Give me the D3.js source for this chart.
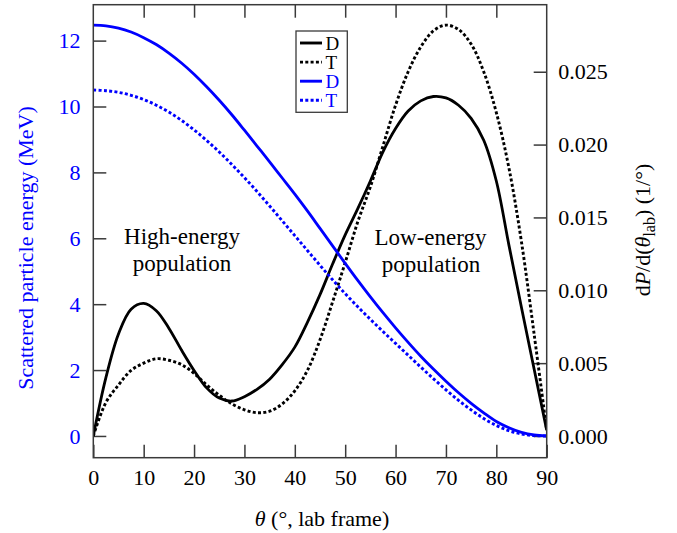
<!DOCTYPE html>
<html>
<head>
<meta charset="utf-8">
<script src="https://cdn.jsdelivr.net/npm/d3@7/dist/d3.min.js"></script>
<style>
  html, body { margin: 0; padding: 0; background: #fff; }
  svg { display: block; }
  text { font-family: "Liberation Serif", "Times New Roman", serif; }
</style>
</head>
<body>
<svg id="chart" width="677" height="533"></svg>
<script>
// Lab-frame scattering angle (degrees)
const theta = [0, 2.5, 5, 7.5, 10, 12.5, 15, 17.5, 20, 22.5, 25, 27.5, 30, 32.5, 35, 37.5,
  40, 42.5, 45, 47.5, 50, 52.5, 55, 57.5, 60, 62.5, 65, 67.5, 70, 72.5, 75, 77.5, 80, 82.5,
  85, 87.5, 90];

// Angular distribution dP/dθ (1/°), right axis
const probD = [0.0000, 0.0040, 0.0070, 0.0087, 0.0091, 0.0086, 0.0074, 0.0059, 0.0045, 0.0033,
  0.0026, 0.0024, 0.0027, 0.0032, 0.0039, 0.0049, 0.0061, 0.0078, 0.0097, 0.0118, 0.0138,
  0.0156, 0.0175, 0.0195, 0.0211, 0.0223, 0.0230, 0.0233, 0.0232, 0.0227, 0.0218, 0.0203,
  0.0175, 0.0131, 0.0088, 0.0046, 0.0004];
const probT = [0.0000, 0.0023, 0.0035, 0.0045, 0.0050, 0.0053, 0.0052, 0.0049, 0.0043, 0.0035,
  0.0028, 0.0022, 0.0018, 0.0016, 0.0017, 0.0022, 0.0031, 0.0045, 0.0066, 0.0092, 0.0119,
  0.0147, 0.0171, 0.0199, 0.0227, 0.0250, 0.0267, 0.0278, 0.0282, 0.0279, 0.0269, 0.0250,
  0.0222, 0.0184, 0.0133, 0.0070, 0.0004];

// Scattered particle energy (MeV), left axis
const energyD = [12.47, 12.45, 12.38, 12.26, 12.09, 11.88, 11.62, 11.32, 10.98, 10.60, 10.19,
  9.75, 9.28, 8.80, 8.32, 7.83, 7.34, 6.83, 6.30, 5.77, 5.24, 4.72, 4.22, 3.74, 3.28, 2.84,
  2.42, 2.03, 1.66, 1.31, 0.99, 0.70, 0.44, 0.25, 0.11, 0.03, 0.00];
const energyT = [10.50, 10.48, 10.43, 10.34, 10.21, 10.04, 9.83, 9.58, 9.29, 8.97, 8.62, 8.24,
  7.84, 7.42, 6.98, 6.53, 6.08, 5.63, 5.18, 4.74, 4.32, 3.92, 3.54, 3.17, 2.81, 2.45, 2.09,
  1.74, 1.40, 1.08, 0.79, 0.53, 0.32, 0.16, 0.06, 0.01, 0.00];

// Tick values
const xTicks = [0, 10, 20, 30, 40, 50, 60, 70, 80, 90];
const energyTicks = [0, 2, 4, 6, 8, 10, 12];
const probTicks = [0, 0.005, 0.010, 0.015, 0.020, 0.025];

const BLUE = "#0000ff";
const FRAME = "#3a3a3a";
const FS = 22;
const SERIF = '"Liberation Serif", "Times New Roman", serif';

const svg = d3.select("#chart");
svg.append("rect").attr("width", 677).attr("height", 533).attr("fill", "#fff");

const plot = { left: 93.3, right: 546.7, top: 4.7, bottom: 457.7 };

const x = d3.scaleLinear().domain([0, 90]).range([plot.left, plot.right]);
const yE = d3.scaleLinear().domain([-0.66, 13.09]).range([plot.bottom, plot.top]);
const yP = d3.scaleLinear().domain([-0.00149, 0.0296]).range([plot.bottom, plot.top]);

svg.append("defs").append("clipPath").attr("id", "plotClip")
  .append("rect")
  .attr("x", plot.left).attr("y", plot.top)
  .attr("width", plot.right - plot.left).attr("height", plot.bottom - plot.top);

function styleAxis(g, color) {
  g.attr("font-family", SERIF);
  g.select(".domain").remove();
  g.selectAll(".tick line").attr("stroke", FRAME).attr("stroke-width", 1.5);
  g.selectAll(".tick text")
    .attr("fill", color)
    .style("font-family", SERIF)
    .style("font-size", FS + "px");
}

// Bottom axis with labels, top axis ticks only
svg.append("g")
  .attr("transform", `translate(0,${plot.bottom})`)
  .call(d3.axisBottom(x).tickValues(xTicks).tickSizeInner(-13).tickSizeOuter(0).tickPadding(11.5))
  .call(g => styleAxis(g, "#000"));
svg.append("g")
  .attr("transform", `translate(0,${plot.top})`)
  .call(d3.axisTop(x).tickValues(xTicks.slice(1, -1)).tickSizeInner(-13).tickSizeOuter(0).tickFormat(""))
  .call(g => styleAxis(g, "#000"));

// Left energy axis
svg.append("g")
  .attr("transform", `translate(${plot.left},0)`)
  .call(d3.axisLeft(yE).tickValues(energyTicks).tickSizeInner(-13).tickSizeOuter(0).tickPadding(12.8))
  .call(g => styleAxis(g, BLUE));

// Right probability axis
svg.append("g")
  .attr("transform", `translate(${plot.right},0)`)
  .call(d3.axisRight(yP).tickValues(probTicks).tickSizeInner(-13).tickSizeOuter(0)
    .tickPadding(11.6).tickFormat(d3.format(".3f")))
  .call(g => styleAxis(g, "#000"));

// Curves
const DOT = "3,2.3";
const curves = [
  { ys: probD, scale: yP, color: "#000", dash: null, width: 2.8 },
  { ys: probT, scale: yP, color: "#000", dash: DOT, width: 2.9 },
  { ys: energyD, scale: yE, color: BLUE, dash: null, width: 2.8 },
  { ys: energyT, scale: yE, color: BLUE, dash: DOT, width: 2.9 }
];

const curveG = svg.append("g").attr("clip-path", "url(#plotClip)");
curves.forEach(c => {
  const line = d3.line()
    .x((d, i) => x(theta[i]))
    .y(d => c.scale(d))
    .curve(d3.curveCatmullRom.alpha(0.5));
  curveG.append("path")
    .datum(c.ys)
    .attr("d", line)
    .attr("fill", "none")
    .attr("stroke", c.color)
    .attr("stroke-width", c.width)
    .attr("stroke-dasharray", c.dash)
    .attr("stroke-linejoin", "round");
});

// Frame
svg.append("rect")
  .attr("x", plot.left).attr("y", plot.top)
  .attr("width", plot.right - plot.left).attr("height", plot.bottom - plot.top)
  .attr("fill", "none").attr("stroke", FRAME).attr("stroke-width", 1.5);

// Legend
const legend = svg.append("g");
legend.append("rect")
  .attr("x", 296).attr("y", 31).attr("width", 51.3).attr("height", 81.3)
  .attr("fill", "#fff").attr("stroke", FRAME).attr("stroke-width", 1.3);
const legendItems = [
  { label: "D", color: "#000", dash: null },
  { label: "T", color: "#000", dash: DOT },
  { label: "D", color: BLUE, dash: null },
  { label: "T", color: BLUE, dash: DOT }
];
legendItems.forEach((d, i) => {
  const yy = 43 + i * 19.1;
  legend.append("line")
    .attr("x1", 300).attr("x2", 322).attr("y1", yy).attr("y2", yy)
    .attr("stroke", d.color).attr("stroke-width", 2.9).attr("stroke-dasharray", d.dash);
  legend.append("text")
    .attr("x", 325.5).attr("y", yy + 6.5)
    .attr("fill", d.color).style("font-size", "19px")
    .text(d.label);
});

// Population annotations
const notes = [
  { x: 182, y: 243.5, text: "High-energy" },
  { x: 182, y: 270.5, text: "population" },
  { x: 430.5, y: 244.5, text: "Low-energy" },
  { x: 431, y: 271.5, text: "population" }
];
svg.append("g").selectAll("text").data(notes).join("text")
  .attr("x", d => d.x).attr("y", d => d.y)
  .attr("text-anchor", "middle").attr("fill", "#000")
  .style("font-size", "23px")
  .text(d => d.text);

// Axis titles
const xTitle = svg.append("text")
  .attr("x", 322).attr("y", 526)
  .attr("text-anchor", "middle").attr("fill", "#000")
  .style("font-size", FS + "px");
xTitle.append("tspan").style("font-style", "italic").text("θ");
xTitle.append("tspan").text(" (°, lab frame)");

svg.append("text")
  .attr("transform", "translate(33,248) rotate(-90)")
  .attr("text-anchor", "middle").attr("fill", BLUE)
  .style("font-size", FS + "px")
  .text("Scattered particle energy (MeV)");

const yTitle = svg.append("text")
  .attr("transform", "translate(650,230) rotate(-90)")
  .attr("text-anchor", "middle").attr("fill", "#000")
  .style("font-size", FS + "px");
yTitle.append("tspan").text("d");
yTitle.append("tspan").style("font-style", "italic").text("P");
yTitle.append("tspan").text("/d(");
yTitle.append("tspan").style("font-style", "italic").text("θ");
yTitle.append("tspan").attr("dy", 5).style("font-size", "16px").text("lab");
yTitle.append("tspan").attr("dy", -5).text(") (1/°)");
</script>
</body>
</html>
